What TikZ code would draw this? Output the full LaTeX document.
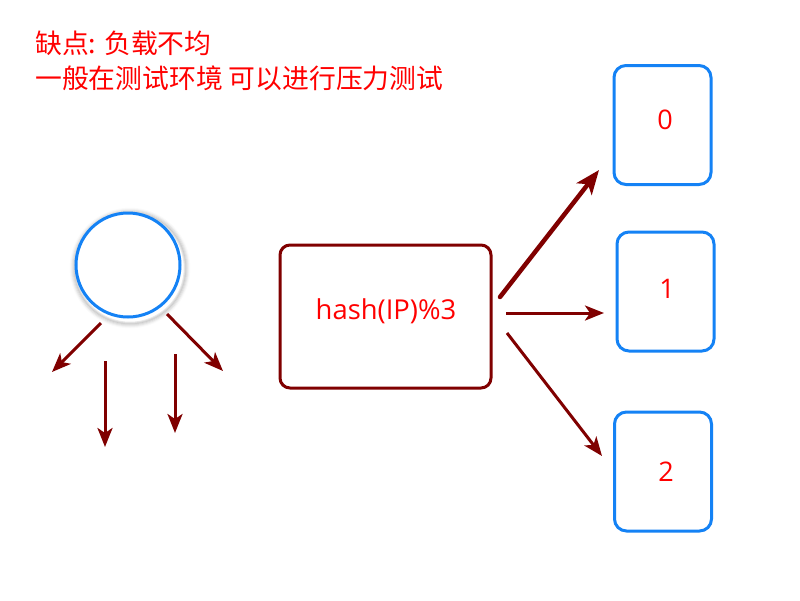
\documentclass[tikz,border=0pt]{standalone}
\usepackage{fontspec}
\setmainfont{Open Sans}
\newfontfamily\cjk{Noto Sans CJK SC}
\usetikzlibrary{arrows.meta}
\definecolor{dred}{RGB}{128,0,0}
\definecolor{bblue}{RGB}{20,130,245}
\definecolor{tred}{RGB}{255,0,0}
\tikzset{
  arr/.style={draw=dred, line width=3pt, -{Stealth[length=19pt,width=15pt,inset=5pt]}},
  thickarr/.style={draw=dred, line width=4.5pt, line cap=round, -{Stealth[length=24pt,width=19pt,inset=6pt]}},
  srvbox/.style={draw=bblue, line width=3pt, rounded corners=12pt, minimum width=97pt, minimum height=119pt, inner sep=0pt},
  numtxt/.style={text=tred, font=\fontsize{27}{30}\selectfont},
  hashbox/.style={draw=dred, line width=3pt, rounded corners=10pt, minimum width=211pt, minimum height=143pt},
  note/.style={anchor=west, text=tred, inner sep=0pt, font=\cjk\fontsize{26.8}{30}\selectfont},
}
\begin{document}
\begin{tikzpicture}[x=1pt,y=-1pt]
\useasboundingbox[fill=white] (0,0) rectangle (800,600);
% texts
\node[note] (t1) at (35,43) {缺点: 负载不均};
\node[note] (t2) at (35,78) {一般在测试环境 可以进行压力测试};
% circle with soft shadow
\foreach \r/\o in {59/0.02,58/0.03,57/0.05,56/0.07,55/0.09}{
  \draw[black, opacity=\o, line width=2.5pt] (130,268) circle (\r);
}
\node[circle, draw=bblue, line width=3pt, fill=white, minimum size=104pt, inner sep=0pt] (c) at (128,265) {};
% arrows from circle
\coordinate (a1s) at (101,323); \coordinate (a1e) at (52,372);
\coordinate (a2s) at (105,361); \coordinate (a2e) at (105,447);
\coordinate (a3s) at (175,354); \coordinate (a3e) at (175,433);
\coordinate (a4s) at (167,314); \coordinate (a4e) at (223,371);
\draw[arr] (a1s) -- (a1e);
\draw[arr] (a2s) -- (a2e);
\draw[arr] (a3s) -- (a3e);
\draw[arr] (a4s) -- (a4e);
% hash box
\node[hashbox] (h) at (385.5,316.5) {};
\node[text=tred, font=\fontsize{27.4}{30}\selectfont, inner sep=0pt] (ht) at (386,311) {hash(IP)\%3};
% servers
\node[srvbox] (s0) at (662.5,125) {};
\node[numtxt] (n0) at (665,120) {0};
\node[srvbox] (s1) at (665.5,291.5) {};
\node[numtxt] (n1) at (667,289) {1};
\node[srvbox] (s2) at (663,471.5) {};
\node[numtxt] (n2) at (666,472) {2};
% arrows from hash box
\coordinate (b0s) at (500,297); \coordinate (b0e) at (599,170);
\coordinate (b1s) at (506,313); \coordinate (b1e) at (604,313);
\coordinate (b2s) at (507,333); \coordinate (b2e) at (602,456);
\draw[thickarr] (b0s) -- (b0e);
\draw[arr] (b1s) -- (b1e);
\draw[arr] (b2s) -- (b2e);
\end{tikzpicture}
\end{document}
